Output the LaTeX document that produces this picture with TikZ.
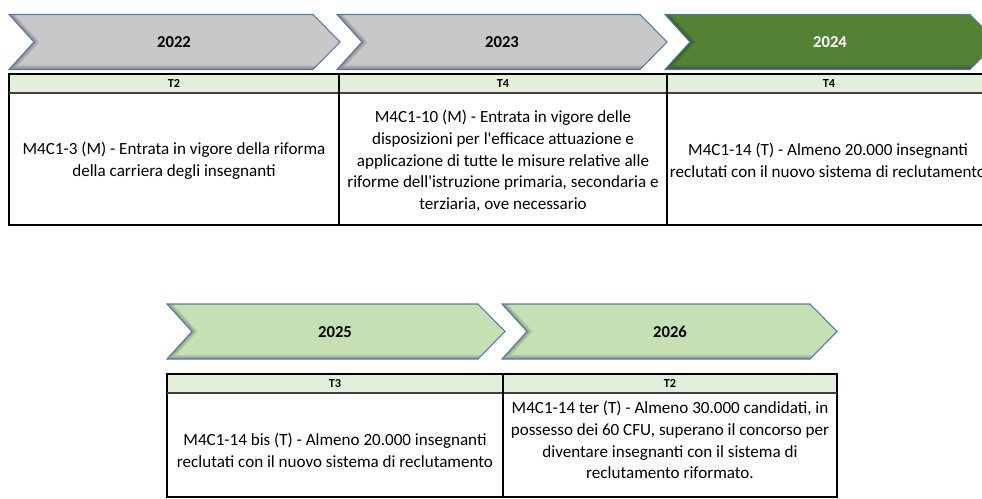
\documentclass[tikz,border=0pt]{standalone}
\usepackage{fontspec}
\setmainfont{Carlito}
\usepackage{tikz}
\usetikzlibrary{positioning}
\usepackage{xcolor}
\definecolor{chevgray}{RGB}{200,200,200}
\definecolor{chevgreen}{RGB}{84,130,53}
\definecolor{chevlight}{RGB}{198,224,180}
\definecolor{hdrgreen}{RGB}{226,239,218}
\definecolor{chevedge}{RGB}{84,118,178}
\tikzset{
  chev/.style={draw=chevedge, line width=0.8pt, line join=miter},
  chevshade/.style={draw=black, line join=miter},
  yearlbl/.style={font=\fontsize{12.5}{14}\selectfont\bfseries, inner sep=0pt},
  hdrtxt/.style={font=\fontsize{9.2}{11}\selectfont\bfseries, inner sep=0pt},
  celltxt/.style={font=\fontsize{12.8}{16.3}\selectfont, align=center, inner sep=0pt},
  gridline/.style={draw=black, line width=0.8pt},
  hdrline/.style={draw=black!75, line width=1.6pt}
}
\newcommand{\chevron}[4]{%
  \begin{scope}
  \clip (#1,#2) -- ({#1+#3-27},#2) -- ({#1+#3},{#2+27.5})
    -- ({#1+#3-27},{#2+55}) -- (#1,{#2+55}) -- ({#1+25},{#2+27.5}) -- cycle;
  \fill[#4] (#1,#2) rectangle ({#1+#3},{#2+55});
  \draw[chevshade, opacity=0.12, line width=6pt] ({#1+#3},{#2+55}) -- (#1,{#2+55}) -- ({#1+25},{#2+27.5}) -- (#1,#2);
  \draw[chevshade, opacity=0.15, line width=3pt] ({#1+#3},{#2+55}) -- (#1,{#2+55}) -- ({#1+25},{#2+27.5}) -- (#1,#2);
  \end{scope}
  \draw[chev] (#1,#2) -- ({#1+#3-27},#2) -- ({#1+#3},{#2+27.5})
    -- ({#1+#3-27},{#2+55}) -- (#1,{#2+55}) -- ({#1+25},{#2+27.5}) -- cycle;}

\begin{document}
\begin{tikzpicture}[x=0.75pt, y=-0.75pt]
\useasboundingbox (0,0) rectangle (982,499);
\clip (0,0) rectangle (982,499);

\chevron{9}{14.5}{331}{chevgray}
\chevron{337}{14.5}{330}{chevgray}
\chevron{665}{14.5}{332}{chevgreen}
\node[yearlbl] (y22) at (174,42) {2022};
\node[yearlbl] (y23) at (502,42) {2023};
\node[yearlbl, text=white] (y24) at (830,42) {2024};

\fill[hdrgreen] (9,74) rectangle (992,93);
\draw[gridline] (9,74) rectangle (992,225);
\draw[hdrline] (9,93) -- (992,93);
\draw[gridline] (339,74) -- (339,225);
\draw[gridline] (667,74) -- (667,225);
\node[hdrtxt] (q22) at (174,83.5) {T2};
\node[hdrtxt] (q23) at (503,83.5) {T4};
\node[hdrtxt] (q24) at (829,83.5) {T4};
\node[celltxt] (m22) at (174,161) {M4C1-3 (M) - Entrata in vigore della riforma\\della carriera degli insegnanti};
\node[celltxt] (m23) at (503,161) {M4C1-10 (M) - Entrata in vigore delle\\disposizioni per l\textquotesingle efficace attuazione e\\applicazione di tutte le misure relative alle\\riforme dell\textquotesingle istruzione primaria, secondaria e\\terziaria, ove necessario};
\node[celltxt] (m24) at (828,160) {M4C1-14 (T) - Almeno 20.000 insegnanti\\reclutati con il nuovo sistema di reclutamento};

\chevron{167}{304}{338}{chevlight}
\chevron{502}{304}{335}{chevlight}
\node[yearlbl] (y25) at (335,332) {2025};
\node[yearlbl] (y26) at (670,332) {2026};

\fill[hdrgreen] (167,374) rectangle (837,393);
\draw[gridline] (167,374) rectangle (837,497);
\draw[hdrline] (167,393) -- (837,393);
\draw[gridline] (503,374) -- (503,497);
\node[hdrtxt] (q25) at (335,383.5) {T3};
\node[hdrtxt] (q26) at (670,383.5) {T2};
\node[celltxt] (m25) at (335,450) {M4C1-14 bis (T) - Almeno 20.000 insegnanti\\reclutati con il nuovo sistema di reclutamento};
\node[celltxt] (m26) at (670,440) {M4C1-14 ter (T) - Almeno 30.000 candidati, in\\possesso dei 60 CFU, superano il concorso per\\diventare insegnanti con il sistema di\\reclutamento riformato.};
\end{tikzpicture}
\end{document}
